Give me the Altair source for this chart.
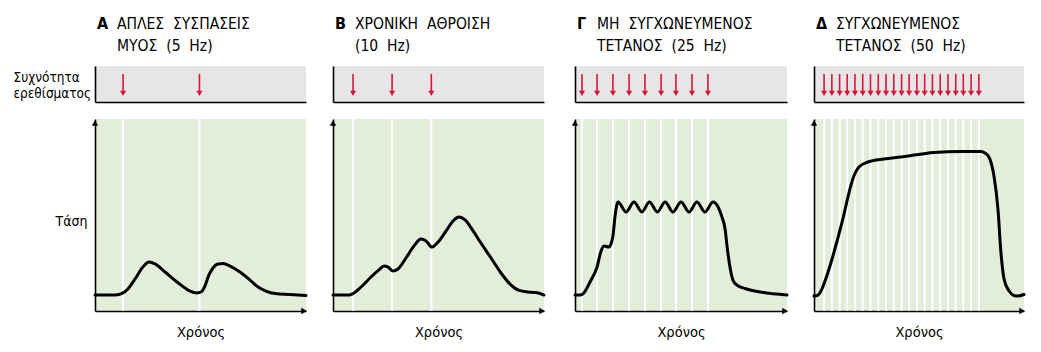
import altair as alt
import pandas as pd

FONT = "Liberation Sans Narrow, DejaVu Sans Condensed, sans-serif"
RED = "#d4173f"
GREEN = "#e2eeda"
GRAY = "#e7e5e5"

# ---- panel texts ----
letters = ["Α", "Β", "Γ", "Δ"]
titles = [
    "ΑΠΛΕΣ\u00a0\u00a0ΣΥΣΠΑΣΕΙΣ\nΜΥΟΣ\u00a0\u00a0(5\u00a0\u00a0Hz)",
    "ΧΡΟΝΙΚΗ\u00a0\u00a0ΑΘΡΟΙΣΗ\n(10\u00a0\u00a0Hz)",
    "ΜΗ\u00a0\u00a0ΣΥΓΧΩΝΕΥΜΕΝΟΣ\nΤΕΤΑΝΟΣ\u00a0\u00a0(25\u00a0\u00a0Hz)",
    "ΣΥΓΧΩΝΕΥΜΕΝΟΣ\nΤΕΤΑΝΟΣ\u00a0\u00a0(50\u00a0\u00a0Hz)",
]
stim_label = ["Συχνότητα", "ερεθίσματος"]
y_label = "Τάση"
x_label = "Χρόνος"

# ---- stimulus times (0-100 time units) ----
stim_a = [13.3, 49.5]
stim_b = [9.5, 28.0, 46.6]
stim_c = [3.3, 10.4, 17.9, 25.5, 33.0, 40.6, 47.6, 55.2, 62.7]
stim_d = [4.8, 8.5, 12.2, 15.8, 19.5, 23.2, 26.9, 30.6, 34.3, 38.0, 41.7,
          45.3, 49.0, 52.7, 56.4, 60.1, 63.8, 67.5, 71.1, 74.8, 78.5]

# ---- tension curves ----
time_a = [0, 9.5, 13.3, 15.6, 19.0, 22.7, 25.6, 28.4, 33.2, 38.9, 44.1, 48.3,
          50.2, 52.1, 54.0, 55.9, 58.3, 60.7, 64.0, 68.7, 73.5, 77.3, 81.0,
          85.3, 92.4, 100]
tens_a = [8.3, 8.3, 9.4, 11.5, 16.7, 22.9, 25.5, 24.5, 20.3, 15.1, 10.9, 9.4,
          9.9, 13.0, 18.8, 22.4, 24.5, 24.7, 23.4, 20.3, 16.1, 12.5, 10.4,
          9.1, 8.6, 8.1]

time_b = [0, 7.6, 9.5, 13.3, 18.0, 21.8, 24.2, 26.1, 28.4, 30.8, 34.6, 38.4,
          41.7, 44.1, 46.9, 49.8, 53.6, 56.9, 59.7, 62.6, 66.4, 70.1, 74.9,
          79.6, 84.4, 88.2, 92.4, 96.2, 100]
tens_b = [8.3, 8.3, 9.1, 12.5, 17.7, 21.4, 23.4, 22.9, 20.8, 21.9, 27.6, 33.9,
          37.5, 36.5, 33.3, 35.9, 41.7, 46.9, 49.0, 47.4, 41.7, 35.4, 27.6,
          19.8, 13.5, 10.7, 9.9, 9.6, 8.3]

time_c = [0, 2.4, 4.2, 7.1, 10.4, 12.3, 13.7, 16.0, 17.9, 18.9, 20.3,
          24.1, 27.8, 31.6, 35.1, 38.9, 42.5, 46.2, 50.0, 53.8, 57.5, 61.3,
          65.1, 67.5, 69.3, 70.8, 71.7, 73.1, 74.5, 76.4, 80.2, 87.3, 100]
tens_c = [8.3, 8.3, 9.4, 15.1, 22.9, 31.3, 33.9, 33.3, 39.1, 49.5, 56.8,
          51.6, 56.8, 51.6, 56.8, 51.6, 56.8, 51.6, 56.8, 51.6, 56.8, 51.6,
          56.8, 54.2, 49.0, 42.7, 33.9, 22.9, 16.1, 13.5, 11.7, 9.9, 8.3]

time_d = [0, 1.9, 3.3, 6.7, 12.9, 19.0, 21.4, 25.7, 33.3, 41.4, 57.1, 70.0,
          79.5, 81.4, 83.3, 85.7, 87.6, 89.0, 90.5, 92.9, 95.2, 97.1, 100]
tens_d = [7.8, 8.3, 10.4, 20.3, 44.3, 70.3, 75.0, 77.6, 79.2, 80.2, 82.6, 83.1,
          83.1, 82.3, 80.2, 70.3, 53.1, 30.7, 16.7, 10.4, 8.1, 7.8, 8.6]

panels = [
    (stim_a, time_a, tens_a, 211),
    (stim_b, time_b, tens_b, 211),
    (stim_c, time_c, tens_c, 212),
    (stim_d, time_d, tens_d, 210),
]

T_DOM = [0, 100]
Y_DOM = [0, 100]
STRIP_H = 36
MAIN_H = 192


def make_column(i):
    stim, tt, yy, w = panels[i]
    stim_df = pd.DataFrame({"t": stim})
    first = i == 0

    # ---------- stimulus strip ----------
    sx = alt.Scale(domain=T_DOM, nice=False, zero=False)
    sy = alt.Scale(domain=[0, 1], nice=False)
    x_ax = alt.Axis(domain=True, domainColor="black", domainWidth=1.6,
                    ticks=False, labels=False, grid=False, title="")
    y_kw = dict(domain=True, domainColor="black", domainWidth=1.6,
                ticks=False, labels=False, grid=False)
    if first:
        y_kw.update(title=stim_label, titleAngle=0, titleAlign="left",
                    titleBaseline="alphabetic", titleX=-82, titleY=15,
                    titleLineHeight=16, titleFont=FONT, titleFontSize=13.5,
                    titleFontWeight="normal", titleColor="black")
    else:
        y_kw.update(title="")
    base = alt.Chart(stim_df)
    shaft = base.mark_rule(color=RED, strokeWidth=1.6).encode(
        x=alt.X("t:Q", scale=sx, axis=x_ax),
        y=alt.YDatum(0.78, scale=sy, axis=alt.Axis(**y_kw)),
        y2=alt.datum(0.3),
    )
    head = base.mark_point(shape="triangle-down", filled=True, color=RED,
                           size=38, opacity=1).encode(
        x="t:Q", y=alt.datum(0.24))
    ttl = alt.Chart(pd.DataFrame({"s": [titles[i]]})).mark_text(
        align="left", baseline="alphabetic", font=FONT, fontSize=15.5,
        lineBreak="\n", lineHeight=22, color="black").encode(
        text="s:N", x=alt.value(22), y=alt.value(-37))
    let = alt.Chart(pd.DataFrame({"s": [letters[i]]})).mark_text(
        align="left", baseline="alphabetic", font=FONT, fontSize=16,
        fontWeight="bold", color="black").encode(
        text="s:N", x=alt.value(2), y=alt.value(-37))
    strip = alt.layer(shaft, head, ttl, let).properties(
        width=w, height=STRIP_H,
        view=alt.ViewBackground(fill=GRAY, strokeWidth=0))

    # ---------- tension plot ----------
    mx = alt.Scale(domain=T_DOM, nice=False, zero=False)
    my = alt.Scale(domain=Y_DOM, nice=False)
    mx_ax = alt.Axis(domain=True, domainColor="black", domainWidth=1.6,
                     ticks=False, labels=False, grid=False, title=x_label,
                     titleFont=FONT, titleFontSize=14.5, titleFontWeight="normal",
                     titleBaseline="alphabetic", titlePadding=25,
                     titleColor="black")
    my_kw = dict(domain=True, domainColor="black", domainWidth=1.6,
                 ticks=False, labels=False, grid=False)
    if first:
        my_kw.update(title=y_label, titleAngle=0, titleAlign="right",
                     titleBaseline="alphabetic", titleX=-8, titleY=106,
                     titleFont=FONT, titleFontSize=14, titleFontWeight="normal",
                     titleColor="black")
    else:
        my_kw.update(title="")
    grid = alt.Chart(stim_df).mark_rule(color="white", strokeWidth=2).encode(
        x=alt.X("t:Q", scale=mx, axis=mx_ax),
        y=alt.YDatum(Y_DOM[0], scale=my, axis=alt.Axis(**my_kw)),
        y2=alt.datum(Y_DOM[1]),
    )
    curve_df = pd.DataFrame({"t": tt, "T": yy})
    curve = alt.Chart(curve_df).mark_line(
        color="black", strokeWidth=3, interpolate="monotone",
        strokeCap="round", strokeJoin="round").encode(x="t:Q", y="T:Q")
    up = alt.Chart(pd.DataFrame({"t": [T_DOM[0]], "T": [Y_DOM[1]]})).mark_point(
        shape="triangle-up", filled=True, color="black", size=40, opacity=1,
        yOffset=4).encode(x="t:Q", y="T:Q")
    right = alt.Chart(pd.DataFrame({"t": [T_DOM[1]], "T": [Y_DOM[0]]})).mark_point(
        shape="triangle-right", filled=True, color="black", size=40, opacity=1,
        xOffset=-2).encode(x="t:Q", y="T:Q")
    main = alt.layer(grid, curve, up, right).properties(
        width=w, height=MAIN_H,
        view=alt.ViewBackground(fill=GREEN, strokeWidth=0))

    return alt.vconcat(strip, main, spacing=17, bounds="flush")


cols = [make_column(i) for i in range(4)]
chart = alt.hconcat(
    alt.hconcat(cols[0], cols[1], spacing=21),
    alt.hconcat(cols[2], cols[3], spacing=21),
    spacing=25,
).properties(
    padding={"left": 13, "top": 16, "right": 5, "bottom": 2},
    background="white",
)

chart.save("out.html", embed_options={"renderer": "svg", "actions": False})
